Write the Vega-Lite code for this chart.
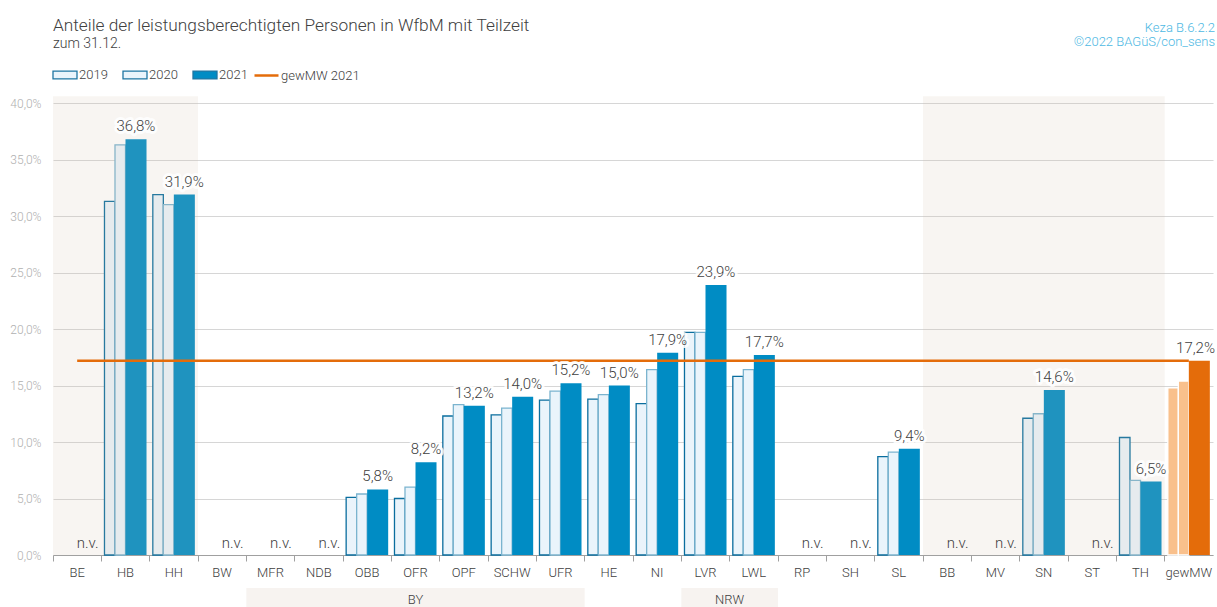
{
  "$schema": "https://vega.github.io/schema/vega-lite/v6.json",
  "width": 1160,
  "height": 452,
  "autosize": {"type": "none"},
  "padding": {"left": 53, "top": 103, "right": 4, "bottom": 52},
  "title": {
    "text": "Anteile der leistungsberechtigten Personen in WfbM mit Teilzeit",
    "subtitle": "zum 31.12.",
    "anchor": "start",
    "frame": "group",
    "fontSize": 17.3,
    "fontWeight": 300,
    "color": "#404040",
    "subtitleFontSize": 14,
    "subtitleFontWeight": 300,
    "subtitleColor": "#404040",
    "subtitlePadding": 3,
    "offset": -29
  },
  "datasets": {
    "main": [
      {"cat": "BE", "year": "2021", "value": null},
      {"cat": "HB", "year": "2019", "value": 0.313},
      {"cat": "HB", "year": "2020", "value": 0.363},
      {"cat": "HB", "year": "2021", "value": 0.368},
      {"cat": "HH", "year": "2019", "value": 0.319},
      {"cat": "HH", "year": "2020", "value": 0.310},
      {"cat": "HH", "year": "2021", "value": 0.319},
      {"cat": "BW", "year": "2021", "value": null},
      {"cat": "MFR", "year": "2021", "value": null},
      {"cat": "NDB", "year": "2021", "value": null},
      {"cat": "OBB", "year": "2019", "value": 0.051},
      {"cat": "OBB", "year": "2020", "value": 0.054},
      {"cat": "OBB", "year": "2021", "value": 0.058},
      {"cat": "OFR", "year": "2019", "value": 0.050},
      {"cat": "OFR", "year": "2020", "value": 0.060},
      {"cat": "OFR", "year": "2021", "value": 0.082},
      {"cat": "OPF", "year": "2019", "value": 0.123},
      {"cat": "OPF", "year": "2020", "value": 0.133},
      {"cat": "OPF", "year": "2021", "value": 0.132},
      {"cat": "SCHW", "year": "2019", "value": 0.124},
      {"cat": "SCHW", "year": "2020", "value": 0.130},
      {"cat": "SCHW", "year": "2021", "value": 0.140},
      {"cat": "UFR", "year": "2019", "value": 0.137},
      {"cat": "UFR", "year": "2020", "value": 0.145},
      {"cat": "UFR", "year": "2021", "value": 0.152},
      {"cat": "HE", "year": "2019", "value": 0.138},
      {"cat": "HE", "year": "2020", "value": 0.142},
      {"cat": "HE", "year": "2021", "value": 0.150},
      {"cat": "NI", "year": "2019", "value": 0.134},
      {"cat": "NI", "year": "2020", "value": 0.164},
      {"cat": "NI", "year": "2021", "value": 0.179},
      {"cat": "LVR", "year": "2019", "value": 0.197},
      {"cat": "LVR", "year": "2020", "value": 0.197},
      {"cat": "LVR", "year": "2021", "value": 0.239},
      {"cat": "LWL", "year": "2019", "value": 0.158},
      {"cat": "LWL", "year": "2020", "value": 0.164},
      {"cat": "LWL", "year": "2021", "value": 0.177},
      {"cat": "RP", "year": "2021", "value": null},
      {"cat": "SH", "year": "2021", "value": null},
      {"cat": "SL", "year": "2019", "value": 0.087},
      {"cat": "SL", "year": "2020", "value": 0.091},
      {"cat": "SL", "year": "2021", "value": 0.094},
      {"cat": "BB", "year": "2021", "value": null},
      {"cat": "MV", "year": "2021", "value": null},
      {"cat": "SN", "year": "2019", "value": 0.121},
      {"cat": "SN", "year": "2020", "value": 0.125},
      {"cat": "SN", "year": "2021", "value": 0.146},
      {"cat": "ST", "year": "2021", "value": null},
      {"cat": "TH", "year": "2019", "value": 0.104},
      {"cat": "TH", "year": "2020", "value": 0.066},
      {"cat": "TH", "year": "2021", "value": 0.065},
      {"cat": "gewMW", "year": "2019", "value": 0.148},
      {"cat": "gewMW", "year": "2020", "value": 0.154},
      {"cat": "gewMW", "year": "2021", "value": 0.172}
    ],
    "shades": [
      {"from": "BE", "to": "HH"},
      {"from": "BB", "to": "TH"}
    ],
    "groups": [
      {"group": "BY", "from": "MFR", "to": "UFR", "mid": "OFR"},
      {"group": "NRW", "from": "LVR", "to": "LWL", "mid": "LWL"}
    ],
    "credits": [
      {"line1": "Keza B.6.2.2", "line2": "©2022 BAGüS/con_sens"}
    ]
  },
  "layer": [
    {
      "data": {"name": "main"},
      "transform": [{"filter": "datum.year !== '2021'"}],
      "mark": {"type": "bar", "strokeWidth": 1.3},
      "encoding": {
        "x": {
          "field": "cat", "type": "nominal", "title": null,
          "scale": {"domain": ["BE","HB","HH","BW","MFR","NDB","OBB","OFR","OPF","SCHW","UFR","HE","NI","LVR","LWL","RP","SH","SL","BB","MV","SN","ST","TH","gewMW"], "paddingInner": 0, "paddingOuter": 0},
          "axis": {"labelAngle": 0, "bandPosition": 0, "domainColor": "#a0a0a0", "tickColor": "#a0a0a0", "tickSize": 6, "labelPadding": 5, "labelFontSize": 13, "labelFontWeight": 300, "labelColor": "#404040", "grid": false, "title": null}
        },
        "xOffset": {"field": "year", "type": "nominal", "scale": {"domain": ["2019", "2020", "s1", "s2"], "paddingOuter": 0.3, "paddingInner": 0}},
        "y": {
          "field": "value", "type": "quantitative", "title": null,
          "scale": {"domain": [0, 0.4], "nice": false},
          "axis": {"values": [0, 0.05, 0.1, 0.15, 0.2, 0.25, 0.3, 0.35, 0.4], "format": ".1%", "labelColor": "#b0b0b0", "labelFontSize": 12, "labelFontWeight": 300, "gridColor": "#d6d6d6", "domain": false, "ticks": false, "labelPadding": 12, "title": null}
        },
        "color": {
          "condition": {"test": "datum.cat === 'gewMW'", "value": "#f9c08c"},
          "field": "year", "type": "nominal",
          "scale": {"domain": ["2019", "2020"], "range": ["#eaf4fb", "#eaf4fb"]},
          "legend": null
        },
        "stroke": {"condition": [{"test": "datum.cat === 'gewMW'", "value": "#ffffff"}, {"test": "datum.year === '2019'", "value": "#0a6e9e"}], "value": "#7bb4cf"}
      }
    },
    {
      "data": {"name": "main"},
      "transform": [{"filter": "datum.year === '2021'"}],
      "mark": {"type": "bar"},
      "encoding": {
        "x": {"field": "cat", "type": "nominal", "title": null},
        "xOffset": {"field": "year", "type": "nominal", "scale": {"domain": ["s0", "2021"], "paddingOuter": 0.15, "paddingInner": 0}},
        "y": {"field": "value", "type": "quantitative", "title": null},
        "fill": {
          "condition": {"test": "datum.cat === 'gewMW'", "value": "#e46c0a"},
          "field": "year", "type": "nominal",
          "scale": {"domain": ["2019", "2020", "2021"], "range": ["#eaf4fb", "#eaf4fb", "#008cc4"]},
          "legend": {
            "orient": "none", "legendX": -1, "legendY": -41, "direction": "horizontal", "title": null,
            "padding": 0, "symbolSize": 576, "labelOffset": 1, "columnPadding": 12,
            "labelFontSize": 13, "labelFontWeight": 300, "labelColor": "#404040",
            "symbolType": "M-1,-0.33H1V0.33H-1Z",
            "symbolStrokeColor": "#1f76a3",
            "symbolStrokeWidth": 1.3,
            "symbolOpacity": 1
          }
        }
      }
    },
    {
      "data": {"name": "shades"},
      "mark": {"type": "rect", "fill": "#cfbba9", "opacity": 0.15},
      "encoding": {
        "x": {"field": "from", "type": "nominal", "bandPosition": 0, "title": null},
        "x2": {"field": "to", "bandPosition": 1},
        "y": {"datum": 0},
        "y2": {"datum": 0.406}
      }
    },
    {
      "data": {"name": "main"},
      "transform": [{"filter": "datum.cat === 'gewMW' && datum.year === '2021'"}],
      "mark": {"type": "rule", "strokeWidth": 2.5},
      "encoding": {
        "x": {"datum": "BE"},
        "x2": {"datum": "gewMW"},
        "y": {"field": "value", "type": "quantitative", "title": null},
        "stroke": {
          "datum": "gewMW 2021",
          "scale": {"domain": ["gewMW 2021"], "range": ["#e46c0a"]},
          "legend": {
            "orient": "none", "legendX": 200, "legendY": -41, "direction": "horizontal", "title": null,
            "padding": 0, "symbolSize": 576, "labelOffset": 1,
            "labelFontSize": 13, "labelFontWeight": 300, "labelColor": "#404040",
            "symbolType": "stroke", "symbolStrokeWidth": 2.5
          }
        }
      }
    },
    {
      "data": {"name": "main"},
      "transform": [{"filter": "datum.year === '2021' && isValid(datum.value) && datum.cat !== 'gewMW'"}],
      "mark": {"type": "text", "fontSize": 15, "fontWeight": 300, "dy": -8, "baseline": "alphabetic", "stroke": "#ffffff", "strokeWidth": 6, "strokeJoin": "round", "opacity": 0.85, "fill": "#ffffff"},
      "encoding": {
        "x": {"field": "cat", "type": "nominal", "title": null, "bandPosition": 0.717},
        "y": {"field": "value", "type": "quantitative", "title": null},
        "text": {"field": "value", "type": "quantitative", "format": ".1%"}
      }
    },
    {
      "data": {"name": "main"},
      "transform": [{"filter": "datum.year === '2021' && isValid(datum.value) && datum.cat !== 'gewMW'"}],
      "mark": {"type": "text", "fontSize": 15, "fontWeight": 300, "dy": -8, "baseline": "alphabetic", "fill": "#404040"},
      "encoding": {
        "x": {"field": "cat", "type": "nominal", "title": null, "bandPosition": 0.717},
        "y": {"field": "value", "type": "quantitative", "title": null},
        "text": {"field": "value", "type": "quantitative", "format": ".1%"}
      }
    },
    {
      "data": {"name": "main"},
      "transform": [{"filter": "datum.year === '2021' && datum.cat === 'gewMW'"}],
      "mark": {"type": "text", "fontSize": 15, "fontWeight": 300, "dy": -8, "dx": 2, "align": "right", "baseline": "alphabetic", "fill": "#404040"},
      "encoding": {
        "x": {"field": "cat", "type": "nominal", "title": null, "bandPosition": 1},
        "y": {"field": "value", "type": "quantitative", "title": null},
        "text": {"field": "value", "type": "quantitative", "format": ".1%"}
      }
    },
    {
      "data": {"name": "main"},
      "transform": [{"filter": "datum.year === '2021' && !isValid(datum.value)"}],
      "mark": {"type": "text", "fontSize": 15, "fontWeight": 300, "dy": -7, "baseline": "alphabetic", "fill": "#404040", "text": "n.v."},
      "encoding": {
        "x": {"field": "cat", "type": "nominal", "title": null, "bandPosition": 0.717},
        "y": {"datum": 0}
      }
    },
    {
      "data": {"name": "groups"},
      "mark": {"type": "rect", "fill": "#f7f3f0"},
      "encoding": {
        "x": {"field": "from", "type": "nominal", "bandPosition": 0, "title": null},
        "x2": {"field": "to", "bandPosition": 1},
        "y": {"datum": -0.0292},
        "y2": {"datum": -0.047}
      }
    },
    {
      "data": {"name": "groups"},
      "transform": [{"filter": "datum.group === 'BY'"}],
      "mark": {"type": "text", "fontSize": 13, "fontWeight": 300, "fill": "#404040", "baseline": "middle"},
      "encoding": {
        "x": {"field": "mid", "type": "nominal", "bandPosition": 0.5, "title": null},
        "y": {"datum": -0.0395},
        "text": {"field": "group"}
      }
    },
    {
      "data": {"name": "groups"},
      "transform": [{"filter": "datum.group === 'NRW'"}],
      "mark": {"type": "text", "fontSize": 13, "fontWeight": 300, "fill": "#404040", "baseline": "middle"},
      "encoding": {
        "x": {"field": "mid", "type": "nominal", "bandPosition": 0, "title": null},
        "y": {"datum": -0.0395},
        "text": {"field": "group"}
      }
    },
    {
      "data": {"name": "credits"},
      "mark": {"type": "text", "fontSize": 13, "fontWeight": 300, "fill": "#4db8e3", "align": "right", "baseline": "alphabetic", "dx": 2},
      "encoding": {
        "x": {"datum": "gewMW", "bandPosition": 1},
        "y": {"datum": 0.463},
        "text": {"field": "line1"}
      }
    },
    {
      "data": {"name": "credits"},
      "mark": {"type": "text", "fontSize": 13, "fontWeight": 300, "fill": "#4db8e3", "align": "right", "baseline": "alphabetic", "dx": 2},
      "encoding": {
        "x": {"datum": "gewMW", "bandPosition": 1},
        "y": {"datum": 0.4505},
        "text": {"field": "line2"}
      }
    }
  ],
  "resolve": {"scale": {"xOffset": "independent"}},
  "config": {
    "font": "Roboto",
    "view": {"stroke": null},
    "locale": {"number": {"decimal": ",", "thousands": ".", "grouping": [3], "currency": ["", " €"]}}
  }
}
